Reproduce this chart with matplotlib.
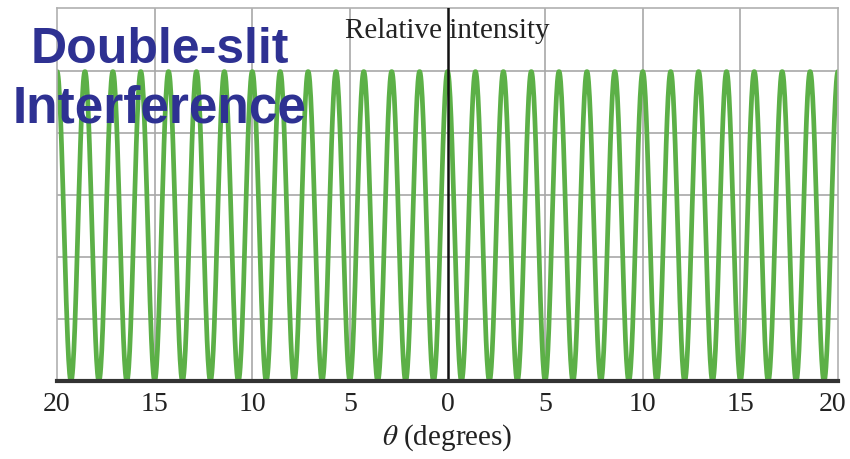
import numpy as np
import matplotlib
matplotlib.use("Agg")
import matplotlib.pyplot as plt
import matplotlib.transforms as mtransforms

plt.rcParams["mathtext.fontset"] = "stix"

# fringe maxima (degrees)
peak_angles = [-20.0, -18.57, -17.14, -15.71, -14.29, -12.86, -11.43, -10.0,
               -8.57, -7.14, -5.71, -4.29, -2.86, -1.43, 0.0,
               1.43, 2.86, 4.29, 5.71, 7.14, 8.57, 10.0,
               11.43, 12.86, 14.29, 15.71, 17.14, 18.57, 20.0]
peak_intensity = 1.0

x_ticks = [-20, -15, -10, -5, 0, 5, 10, 15, 20]
x_labels = ["20", "15", "10", "5", "0", "5", "10", "15", "20"]
y_grid = [0.2, 0.4, 0.6, 0.8, 1.0]

green = "#5cb047"
blue = "#2e3192"

# build the fringes: one cos^2 lobe per maximum, zero halfway between maxima
spacing = np.diff(peak_angles).mean()
xs, ys = [], []
for p in peak_angles:
    t = np.linspace(p - spacing / 2, p + spacing / 2, 60)
    xs.append(t)
    ys.append(peak_intensity * np.cos(np.pi * (t - p) / spacing) ** 2)
theta = np.concatenate(xs)
intensity = np.concatenate(ys)

fig = plt.figure(figsize=(8.5, 4.59), dpi=100)
ax = fig.add_axes([0.0671, 0.1699, 0.9188, 0.8127])

for g in y_grid:
    ax.axhline(g, color="#a8a8a8", lw=1.2, zorder=1)
for t in x_ticks[1:-1]:
    if t != 0:
        ax.axvline(t, color="#a8a8a8", lw=1.2, zorder=1)

ax.plot(theta, intensity, color=green, lw=3.4, zorder=2, solid_joinstyle="round")
ax.axvline(0, color="#111111", lw=1.8, zorder=3)

ax.set_xlim(-20, 20)
ax.set_ylim(0, 1.205)
ax.set_xticks(x_ticks)
ax.set_xticklabels(x_labels, fontfamily="Liberation Serif", fontsize=20, color="#222222")
ax.set_yticks([])
ax.tick_params(axis="x", length=0, pad=8)

# the last label sits on the figure edge; nudge it inwards a little
last = ax.get_xticklabels()[-1]
last.set_transform(last.get_transform() + mtransforms.ScaledTranslation(-4 / 72, 0, fig.dpi_scale_trans))

for s in ["left", "right", "top"]:
    ax.spines[s].set_color("#b0b0b0")
    ax.spines[s].set_linewidth(1.2)
ax.spines["bottom"].set_color("#333333")
ax.spines["bottom"].set_linewidth(3)
ax.spines["bottom"].set_zorder(4)

ax.set_xlabel(r"$\theta$ (degrees)", fontfamily="Liberation Serif", fontsize=21,
              color="#222222", labelpad=4)
ax.text(0, 1.13, "Relative intensity", ha="center", va="center",
        fontfamily="Liberation Serif", fontsize=21, color="#222222", zorder=5)

fig.text(0.036, 0.8627, "Double-slit", fontfamily="Liberation Sans", fontweight="bold",
         fontsize=36, color=blue, va="baseline", ha="left")
fig.text(0.015, 0.7342, "Interference", fontfamily="Liberation Sans",
         fontweight="bold", fontsize=37, color=blue, va="baseline", ha="left")

fig.savefig("out.png", dpi=100)
